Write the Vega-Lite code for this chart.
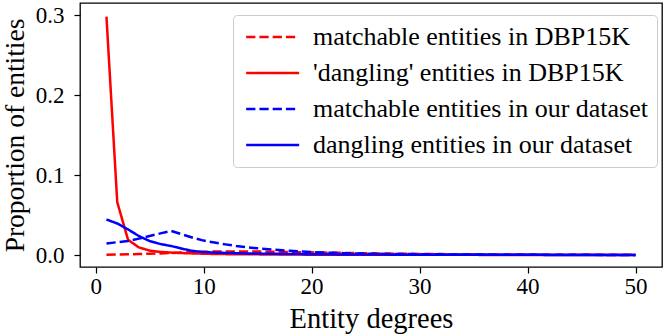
{
  "$schema": "https://vega.github.io/schema/vega-lite/v6.json",
  "autosize": {"type": "none"},
  "padding": {"left": 80, "top": 3, "right": 3, "bottom": 69},
  "width": 582,
  "height": 264,
  "config": {
    "font": "Liberation Serif",
    "style": {"guide-label": {"font": "Liberation Serif"}, "guide-title": {"font": "Liberation Serif"}},
    "view": {"stroke": "black", "strokeWidth": 1.3},
    "axis": {"grid": false, "domain": false, "tickColor": "black", "tickSize": 6, "tickWidth": 1.2, "labelColor": "black", "titleColor": "black", "labelFont": "Liberation Serif", "titleFont": "Liberation Serif", "labelFontSize": 23, "titleFontSize": 28, "titleFontWeight": "normal"},
    "legend": {"labelFont": "Liberation Serif", "labelLimit": 0}
  },
  "data": {
    "values": [
      {"deg": 1, "a": 0.0003, "b": 0.298, "c": 0.0145, "d": 0.0444},
      {"deg": 2, "a": 0.0005, "b": 0.066, "c": 0.016, "d": 0.0394},
      {"deg": 3, "a": 0.0008, "b": 0.019, "c": 0.0175, "d": 0.032},
      {"deg": 4, "a": 0.0012, "b": 0.0095, "c": 0.0205, "d": 0.0237},
      {"deg": 5, "a": 0.0016, "b": 0.0055, "c": 0.0237, "d": 0.0174},
      {"deg": 6, "a": 0.002, "b": 0.0038, "c": 0.027, "d": 0.0137},
      {"deg": 7, "a": 0.0025, "b": 0.003, "c": 0.03, "d": 0.0112},
      {"deg": 8, "a": 0.003, "b": 0.0024, "c": 0.0258, "d": 0.0079},
      {"deg": 9, "a": 0.0035, "b": 0.002, "c": 0.0216, "d": 0.005},
      {"deg": 10, "a": 0.004, "b": 0.0016, "c": 0.018, "d": 0.0037},
      {"deg": 11, "a": 0.0043, "b": 0.0013, "c": 0.0155, "d": 0.003},
      {"deg": 12, "a": 0.0045, "b": 0.0011, "c": 0.0133, "d": 0.0026},
      {"deg": 13, "a": 0.0045, "b": 0.001, "c": 0.0113, "d": 0.0023},
      {"deg": 14, "a": 0.0044, "b": 0.0009, "c": 0.0097, "d": 0.002},
      {"deg": 15, "a": 0.0043, "b": 0.0008, "c": 0.0083, "d": 0.0018},
      {"deg": 16, "a": 0.0041, "b": 0.0007, "c": 0.0071, "d": 0.0016},
      {"deg": 17, "a": 0.0039, "b": 0.0006, "c": 0.0061, "d": 0.0014},
      {"deg": 18, "a": 0.0037, "b": 0.0005, "c": 0.0052, "d": 0.0012},
      {"deg": 19, "a": 0.0035, "b": 0.0005, "c": 0.0044, "d": 0.0011},
      {"deg": 20, "a": 0.0033, "b": 0.0004, "c": 0.0037, "d": 0.001},
      {"deg": 21, "a": 0.003, "b": 0.0003, "c": 0.0031, "d": 0.0009},
      {"deg": 22, "a": 0.0028, "b": 0.0003, "c": 0.0027, "d": 0.0008},
      {"deg": 23, "a": 0.0026, "b": 0.0003, "c": 0.0023, "d": 0.0007},
      {"deg": 24, "a": 0.0024, "b": 0.0003, "c": 0.002, "d": 0.0007},
      {"deg": 25, "a": 0.0022, "b": 0.0003, "c": 0.0017, "d": 0.0006},
      {"deg": 26, "a": 0.002, "b": 0.0002, "c": 0.0015, "d": 0.0005},
      {"deg": 27, "a": 0.0018, "b": 0.0002, "c": 0.0013, "d": 0.0005},
      {"deg": 28, "a": 0.0016, "b": 0.0002, "c": 0.0012, "d": 0.0004},
      {"deg": 29, "a": 0.0015, "b": 0.0002, "c": 0.0011, "d": 0.0004},
      {"deg": 30, "a": 0.0013, "b": 0.0002, "c": 0.001, "d": 0.0004},
      {"deg": 31, "a": 0.0012, "b": 0.0002, "c": 0.0009, "d": 0.0003},
      {"deg": 32, "a": 0.0011, "b": 0.0002, "c": 0.0008, "d": 0.0003},
      {"deg": 33, "a": 0.001, "b": 0.0002, "c": 0.0007, "d": 0.0003},
      {"deg": 34, "a": 0.0009, "b": 0.0002, "c": 0.0006, "d": 0.0003},
      {"deg": 35, "a": 0.0008, "b": 0.0002, "c": 0.0005, "d": 0.0003},
      {"deg": 36, "a": 0.0007, "b": 0.0001, "c": 0.0005, "d": 0.0002},
      {"deg": 37, "a": 0.0007, "b": 0.0001, "c": 0.0004, "d": 0.0002},
      {"deg": 38, "a": 0.0006, "b": 0.0001, "c": 0.0004, "d": 0.0002},
      {"deg": 39, "a": 0.0006, "b": 0.0001, "c": 0.0004, "d": 0.0002},
      {"deg": 40, "a": 0.0005, "b": 0.0001, "c": 0.0003, "d": 0.0002},
      {"deg": 41, "a": 0.0004, "b": 0.0001, "c": 0.0003, "d": 0.0002},
      {"deg": 42, "a": 0.0004, "b": 0.0001, "c": 0.0003, "d": 0.0001},
      {"deg": 43, "a": 0.0004, "b": 0.0001, "c": 0.0002, "d": 0.0001},
      {"deg": 44, "a": 0.0003, "b": 0.0001, "c": 0.0002, "d": 0.0001},
      {"deg": 45, "a": 0.0003, "b": 0.0001, "c": 0.0002, "d": 0.0001},
      {"deg": 46, "a": 0.0003, "b": 0.0001, "c": 0.0002, "d": 0.0001},
      {"deg": 47, "a": 0.0003, "b": 0.0001, "c": 0.0001, "d": 0.0001},
      {"deg": 48, "a": 0.0002, "b": 0.0001, "c": 0.0001, "d": 0.0001},
      {"deg": 49, "a": 0.0002, "b": 0.0001, "c": 0.0001, "d": 0.0001},
      {"deg": 50, "a": 0.0002, "b": 0.0001, "c": 0.0001, "d": 0.0001}
    ]
  },
  "transform": [{"fold": ["a", "b", "c", "d"], "as": ["series", "prop"]}],
  "mark": {"type": "line", "strokeWidth": 2.5, "clip": true},
  "encoding": {
    "x": {
      "field": "deg", "type": "quantitative",
      "scale": {"domain": [-1.45, 52.45], "nice": false, "zero": false},
      "axis": {"values": [0, 10, 20, 30, 40, 50], "title": "Entity degrees", "titleFontSize": 28.5, "labelFont": "Liberation Serif", "labelFontSize": 23, "labelPadding": 2, "titlePadding": 6}
    },
    "y": {
      "field": "prop", "type": "quantitative",
      "scale": {"domain": [-0.015, 0.315], "nice": false, "zero": false},
      "axis": {"values": [0, 0.1, 0.2, 0.3], "format": ".1f", "title": "Proportion of entities", "titleFontSize": 27.5, "labelFont": "Liberation Serif", "labelFontSize": 23, "labelPadding": 10, "titlePadding": 6}
    },
    "color": {
      "field": "series", "type": "nominal",
      "scale": {"domain": ["a", "b", "c", "d"], "range": ["#ff0000", "#ff0000", "#0000ff", "#0000ff"]},
      "legend": {
        "title": null, "orient": "none", "legendX": 153, "legendY": 12,
        "symbolType": "M-1,0L5,0", "symbolSize": 312, "symbolStrokeWidth": 2.5,
        "labelFontSize": 26, "labelFont": "Liberation Serif", "labelColor": "black", "labelOffset": 45, "labelLimit": 0,
        "strokeColor": "#cccccc", "fillColor": "white", "cornerRadius": 4, "padding": 9, "rowPadding": 10,
        "labelExpr": "datum.value == 'a' ? 'matchable entities in DBP15K' : datum.value == 'b' ? '\\'dangling\\' entities in DBP15K' : datum.value == 'c' ? 'matchable entities in our dataset' : 'dangling entities in our dataset'"
      }
    },
    "strokeDash": {
      "field": "series", "type": "nominal",
      "scale": {"domain": ["a", "b", "c", "d"], "range": [[9.25, 4], [1, 0], [9.25, 4], [1, 0]]},
      "legend": {
        "title": null, "orient": "none", "legendX": 153, "legendY": 12,
        "symbolType": "M-1,0L5,0", "symbolSize": 312, "symbolStrokeWidth": 2.5,
        "labelFontSize": 26, "labelFont": "Liberation Serif", "labelColor": "black", "labelOffset": 45, "labelLimit": 0,
        "strokeColor": "#cccccc", "fillColor": "white", "cornerRadius": 4, "padding": 9, "rowPadding": 10,
        "labelExpr": "datum.value == 'a' ? 'matchable entities in DBP15K' : datum.value == 'b' ? '\\'dangling\\' entities in DBP15K' : datum.value == 'c' ? 'matchable entities in our dataset' : 'dangling entities in our dataset'"
      }
    }
  }
}
